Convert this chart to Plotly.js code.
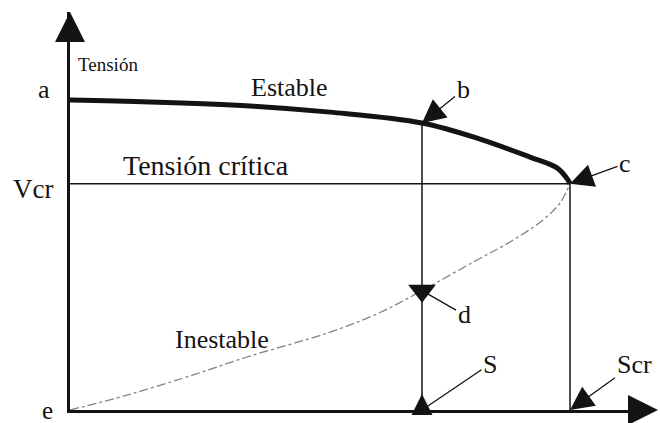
<!DOCTYPE html>
<html><head><meta charset="utf-8">
<script src="https://cdn.plot.ly/plotly-3.0.1.min.js"></script>
<style>html,body{margin:0;padding:0;background:#fff}</style>
</head>
<body><div id="chart" style="width:660px;height:423px"></div>
<script>
// Curva P-V (curva de nariz): S = potencia (relativa a Scr), V = tensión (relativa a a)
const stableS   = [0, 0.16, 0.36, 0.52, 0.704, 0.82, 0.92, 0.974, 0.996, 1.0];
const stableV   = [1.0, 0.994, 0.981, 0.961, 0.926, 0.874, 0.816, 0.781, 0.742, 0.73];
const unstableS = [0, 0.114, 0.246, 0.354, 0.514, 0.614, 0.704, 0.814, 0.88, 0.946, 0.98, 1.0];
const unstableV = [0, 0.048, 0.113, 0.171, 0.248, 0.31, 0.385, 0.484, 0.542, 0.613, 0.668, 0.73];
const Va = 1.0, Vcr = 0.73, Scr = 1.0, S0 = 0.704, Vb = 0.926, Vd = 0.385;

const FONT = "'Liberation Serif', 'Times New Roman', serif";
const INK = '#151213';

// pixel -> paper helpers for label placement (plot area 70..650 x, 12..410 y)
const PX = p => (p - 70) / 580;
const PY = p => (410 - p) / 398;

const traces = [
  {x: stableS, y: stableV, mode: 'lines', line: {color: INK, width: 5, shape: 'spline', smoothing: 1}, hoverinfo: 'skip'},
  {x: unstableS, y: unstableV, mode: 'lines', line: {color: '#8a7f85', width: 1.3, dash: 'dashdot', shape: 'spline', smoothing: 1}, hoverinfo: 'skip'},
  {x: [0, Scr], y: [Vcr, Vcr], mode: 'lines', line: {color: INK, width: 1.5}, hoverinfo: 'skip'},
  {x: [S0, S0], y: [Vb, 0], mode: 'lines', line: {color: INK, width: 1.5}, hoverinfo: 'skip'},
  {x: [Scr, Scr], y: [Vcr, 0], mode: 'lines', line: {color: INK, width: 1.5}, hoverinfo: 'skip'},
  {x: [S0], y: [Vd], mode: 'markers', marker: {symbol: 'triangle-down', size: 24, color: INK}, cliponaxis: false, hoverinfo: 'skip'}
];

const labels = [
  ['a', 44, 90, 26],
  ['Vcr', 33, 189, 27],
  ['e', 47, 410, 25],
  ['Tensión', 108, 64, 19],
  ['Estable', 289, 87, 26],
  ['Tensión crítica', 206, 165, 28],
  ['Inestable', 222, 339, 26]
];

const annotations = labels.map(([t, x, y, s]) => ({
  text: t, xref: 'paper', yref: 'paper', x: PX(x), y: PY(y),
  xanchor: 'center', yanchor: 'middle', showarrow: false,
  font: {family: FONT, size: s, color: INK}
}));

const pointer = (t, x, y, ax, ay, head) => ({
  text: t, xref: 'x', yref: 'y', x: x, y: y, ax: ax, ay: ay,
  showarrow: true, arrowhead: head, arrowsize: 3.6, arrowwidth: 1.3, arrowcolor: INK,
  font: {family: FONT, size: 26, color: INK}
});
annotations.push(
  pointer('b', S0, Vb, 41, -33, 2),
  pointer('c', Scr, Vcr, 55, -20, 2),
  pointer('Scr', Scr, 0, 64, -46, 2),
  pointer('S', S0, 0, 68, -46, 0),
  pointer('d', S0, Vd, 42, 24, 0),
  // triangle at S on the axis
  {text: '', xref: 'x', yref: 'y', x: S0, y: 0, ax: 0, ay: 16, yshift: 16,
   showarrow: true, arrowhead: 2, arrowsize: 2.8, arrowwidth: 1.5, arrowcolor: INK},
  // axis arrowheads
  {text: '', xref: 'paper', yref: 'paper', x: 0, y: 1, ax: 0, ay: 22,
   showarrow: true, arrowhead: 2, arrowsize: 2.0, arrowwidth: 3, arrowcolor: INK},
  {text: '', xref: 'paper', yref: 'paper', x: PX(658), y: 0, ax: -22, ay: 0,
   showarrow: true, arrowhead: 2, arrowsize: 2.0, arrowwidth: 3, arrowcolor: INK}
);

const axisBase = {showgrid: false, zeroline: false, showticklabels: false, ticks: '',
  showline: true, linewidth: 3, linecolor: INK, fixedrange: true};

const layout = {
  width: 660, height: 423,
  margin: {l: 70, r: 10, t: 12, b: 13},
  paper_bgcolor: '#fff', plot_bgcolor: '#fff',
  showlegend: false,
  xaxis: Object.assign({range: [0, 1.16]}, axisBase),
  yaxis: Object.assign({range: [0, 1.284]}, axisBase),
  annotations: annotations
};

Plotly.newPlot('chart', traces, layout, {staticPlot: true, displayModeBar: false});
</script>
</body></html>
